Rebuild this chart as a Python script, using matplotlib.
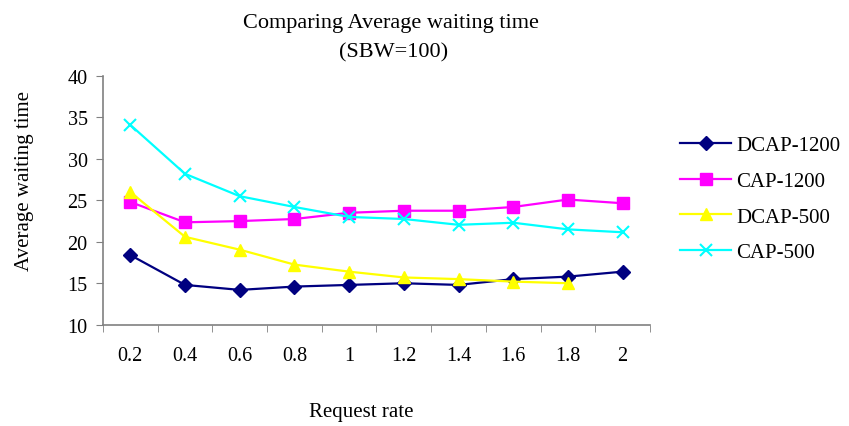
import matplotlib
matplotlib.use("Agg")
import matplotlib.pyplot as plt
import numpy as np

plt.rcParams['font.family'] = ['Liberation Serif', 'DejaVu Serif']

rates = ["0.2", "0.4", "0.6", "0.8", "1", "1.2", "1.4", "1.6", "1.8", "2"]
dcap_1200 = [18.4, 14.8, 14.2, 14.6, 14.8, 15.0, 14.8, 15.5, 15.8, 16.4]
cap_1200 = [24.8, 22.35, 22.5, 22.75, 23.5, 23.75, 23.75, 24.2, 25.1, 24.65]
dcap_500 = [26.0, 20.6, 19.05, 17.25, 16.4, 15.7, 15.5, 15.2, 15.0]
cap_500 = [34.1, 28.2, 25.5, 24.2, 23.0, 22.75, 22.05, 22.3, 21.5, 21.15]

fig = plt.figure(figsize=(8.49, 4.27), dpi=100)
ax = fig.add_axes([0.1213, 0.2372, 0.6443, 0.5825])

x = np.arange(len(rates))
ax.plot(x[:len(dcap_1200)], dcap_1200, color='#000080', marker='D', markersize=7,
        linewidth=1.6, label='DCAP-1200')
ax.plot(x[:len(cap_1200)], cap_1200, color='#FF00FF', marker='s', markersize=8,
        linewidth=1.6, label='CAP-1200')
ax.plot(x[:len(dcap_500)], dcap_500, color='#FFFF00', marker='^', markersize=9,
        linewidth=1.6, label='DCAP-500')
ax.plot(x[:len(cap_500)], cap_500, color='#00FFFF', marker='x', markersize=9,
        markeredgewidth=1.5, linewidth=1.6, label='CAP-500')

ax.set_xlim(-0.5, len(rates) - 0.5)
ax.set_ylim(10, 40)
ax.set_yticks(np.arange(10, 41, 5))
ax.set_xticks(x)
ax.set_xticklabels(rates)
ax.set_xticks(np.arange(-0.5, len(rates), 1.0), minor=True)
ax.tick_params(axis='x', which='major', length=0, pad=15, labelsize=14.5)
ax.tick_params(axis='x', which='minor', length=5, direction='out', color='#808080')
ax.tick_params(axis='y', which='major', length=5, direction='out', color='#808080',
               labelsize=14.5, pad=6)

for side in ('top', 'right'):
    ax.spines[side].set_visible(False)
for side in ('left', 'bottom'):
    ax.spines[side].set_color('#808080')
    ax.spines[side].set_linewidth(1.2)

fig.text(0.461, 0.946, 'Comparing Average waiting time', ha='center', va='center',
         fontsize=16)
fig.text(0.463, 0.877, '(SBW=100)', ha='center', va='center', fontsize=16)
fig.text(0.426, 0.033, 'Request rate', ha='center', va='center', fontsize=15)
fig.text(0.029, 0.576, 'Average waiting time', ha='center', va='center', fontsize=15,
         rotation=90)

ax.legend(loc='center left', bbox_to_anchor=(0.801, 0.5316), bbox_transform=fig.transFigure,
          frameon=False, fontsize=15, handlelength=2.45, labelspacing=0.77,
          handletextpad=0.25, borderaxespad=0, borderpad=0)

fig.savefig('out.png', dpi=100)
